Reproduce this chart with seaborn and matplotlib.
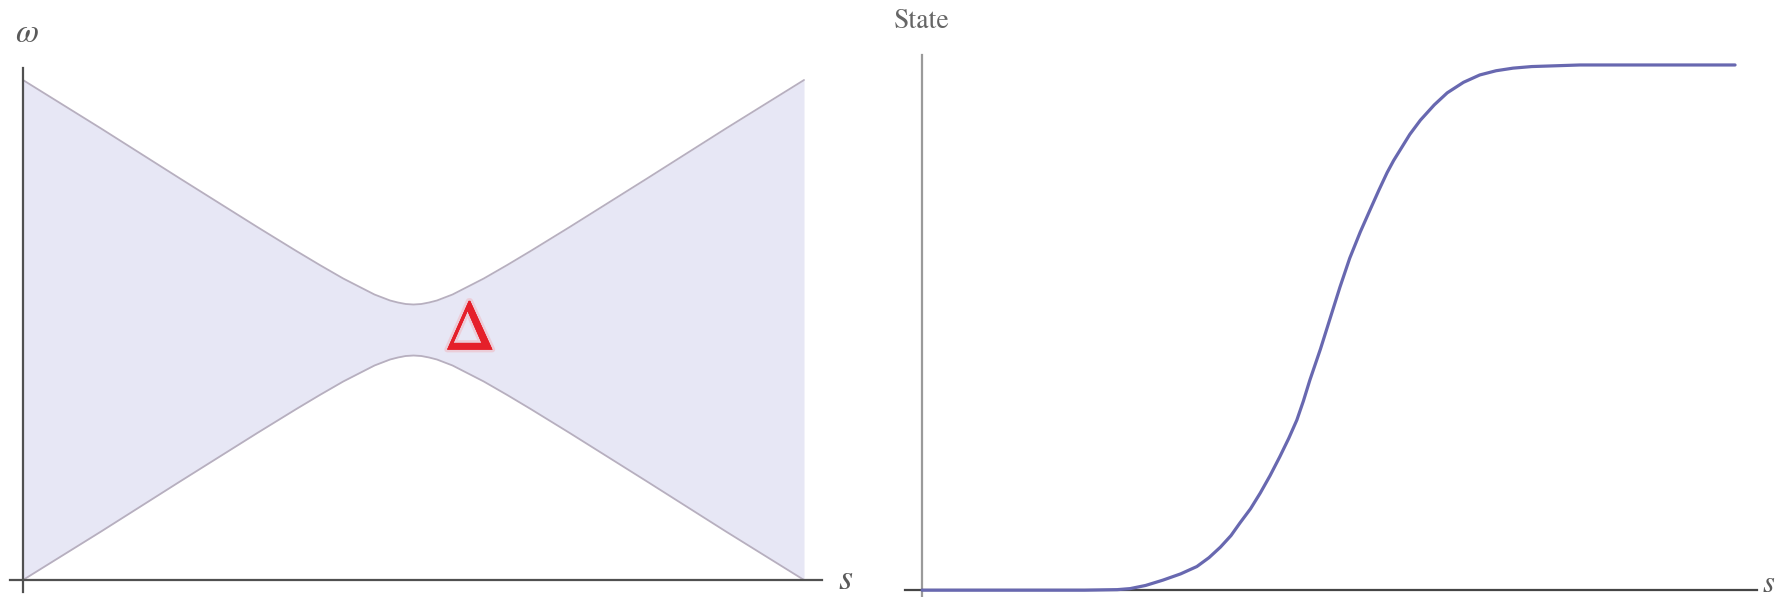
import matplotlib
matplotlib.use("Agg")
import matplotlib.pyplot as plt
import matplotlib.patheffects as pe
import seaborn as sns

# left panel: energy levels vs s
gap_s = [0.0, 0.1, 0.2, 0.25, 0.3, 0.35, 0.38, 0.4, 0.41, 0.42, 0.43, 0.44, 0.45,
         0.46, 0.47, 0.48, 0.49, 0.5, 0.51, 0.52, 0.53, 0.54, 0.55, 0.56, 0.57,
         0.58, 0.59, 0.6, 0.62, 0.65, 0.7, 0.75, 0.8, 0.9, 1.0]
upper = [1.0, 0.903, 0.804, 0.755, 0.706, 0.658, 0.630, 0.612, 0.603, 0.595, 0.587, 0.579, 0.571,
         0.565, 0.559, 0.555, 0.552, 0.551, 0.552, 0.555, 0.559, 0.565, 0.571, 0.579, 0.587,
         0.595, 0.603, 0.612, 0.630, 0.658, 0.706, 0.755, 0.804, 0.903, 1.0]
lower = [0.0, 0.097, 0.196, 0.245, 0.294, 0.342, 0.370, 0.388, 0.397, 0.405, 0.413, 0.421, 0.429,
         0.435, 0.441, 0.445, 0.448, 0.449, 0.448, 0.445, 0.441, 0.435, 0.429, 0.421, 0.413,
         0.405, 0.397, 0.388, 0.370, 0.342, 0.294, 0.245, 0.196, 0.097, 0.0]

# right panel: state vs s
state_s = [0.0, 0.1, 0.2, 0.24, 0.256, 0.275, 0.296, 0.318, 0.338, 0.353, 0.367, 0.38,
           0.391, 0.404, 0.416, 0.428, 0.440, 0.451, 0.461, 0.469, 0.477, 0.49, 0.502,
           0.514, 0.526, 0.539, 0.551, 0.562, 0.572, 0.580, 0.588, 0.600, 0.613, 0.63,
           0.646, 0.666, 0.686, 0.706, 0.727, 0.75, 0.77, 0.809, 0.9, 1.0]
state_v = [0.0, 0.0, 0.0, 0.001, 0.003, 0.009, 0.019, 0.031, 0.045, 0.062, 0.082, 0.104,
           0.128, 0.155, 0.185, 0.218, 0.254, 0.289, 0.324, 0.360, 0.400, 0.459, 0.518,
           0.577, 0.632, 0.682, 0.724, 0.762, 0.795, 0.818, 0.838, 0.868, 0.895, 0.924,
           0.947, 0.967, 0.981, 0.989, 0.994, 0.997, 0.998, 1.0, 1.0, 1.0]

sns.set_theme(style="white")
plt.rcParams["font.family"] = ["STIXGeneral", "DejaVu Serif"]
plt.rcParams["mathtext.fontset"] = "stix"

W, H = 1781, 597
fig = plt.figure(figsize=(W / 100, H / 100), dpi=100)
fig.patch.set_facecolor("white")


def px_axes(x0, y0, x1, y1):
    # pixel box (top-left origin) -> figure axes
    return fig.add_axes([x0 / W, 1 - y1 / H, (x1 - x0) / W, (y1 - y0) / H])


def mathematica_axes(ax, xlim, ylim, left_color, bottom_color):
    ax.set_xlim(*xlim)
    ax.set_ylim(*ylim)
    for side in ["top", "right"]:
        ax.spines[side].set_visible(False)
    ax.spines["left"].set_position(("data", 0))
    ax.spines["bottom"].set_position(("data", 0))
    ax.spines["left"].set_color(left_color)
    ax.spines["bottom"].set_color(bottom_color)
    ax.spines["left"].set_linewidth(1.6)
    ax.spines["bottom"].set_linewidth(1.6)
    ax.set_xticks([])
    ax.set_yticks([])
    ax.set_xlabel("")
    ax.set_ylabel("")
    ax.set_facecolor("none")


# ---- left: gap picture
ax1 = px_axes(10, 68, 822, 592)
ax1.fill_between(gap_s, lower, upper, color="#e7e7f5", lw=0, zorder=1)
sns.lineplot(x=gap_s, y=upper, ax=ax1, color="#b7afbf", lw=1.3, zorder=2)
sns.lineplot(x=gap_s, y=lower, ax=ax1, color="#b7afbf", lw=1.3, zorder=2)
mathematica_axes(ax1, (-0.0166, 1.023), (-0.024, 1.024), "#505050", "#505050")
ax1.text(0.572, 0.494, "Δ", color="#e5202a", fontsize=52, ha="center", va="center",
         zorder=5,
         path_effects=[pe.withStroke(linewidth=4, foreground=(1, 0.4, 0.4, 0.2)),
                       pe.Normal()])

# ---- right: state
ax2 = px_axes(905, 55, 1757, 597)
sns.lineplot(x=state_s, y=state_v, ax=ax2, color="#6868b0", lw=2.3, zorder=3)
mathematica_axes(ax2, (-0.021, 1.027), (-0.013, 1.019), "#9a9a9a", "#454545")

# labels
fig.text(27 / W, 1 - 34 / H, "ω", fontsize=24, style="italic", color="#5a5a5a",
         ha="center", va="center")
fig.text(845 / W, 1 - 580 / H, "s", fontsize=26, style="italic", color="#5a5a5a",
         ha="center", va="center")
fig.text(922 / W, 1 - 21 / H, "State", fontsize=20, color="#666666",
         ha="center", va="center")
fig.text(1768 / W, 1 - 584 / H, "s", fontsize=22, style="italic", color="#5a5a5a",
         ha="center", va="center")

fig.savefig("out.png", dpi=100, facecolor="white")
